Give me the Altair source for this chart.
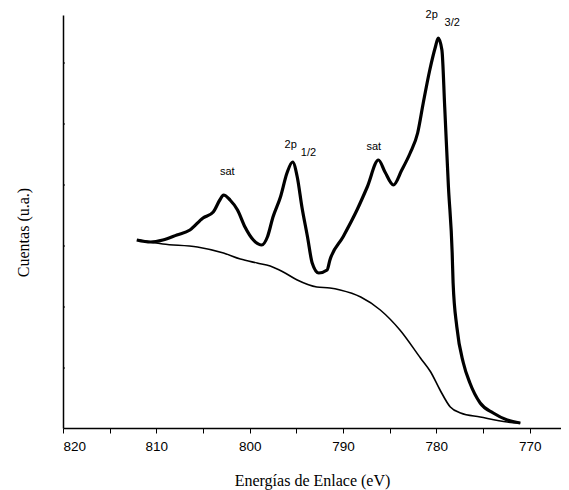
import altair as alt
import pandas as pd

# Main XPS spectrum (binding energy eV, counts a.u.)
be_spec = [812.1, 810.6, 809.3, 807.8, 806.4, 805.0, 803.9, 803.2, 802.8, 802.1,
           801.3, 800.5, 799.6, 798.7, 798.1, 797.5, 796.7, 796.0, 795.4, 794.9,
           794.4, 793.8, 793.3, 792.6, 791.7, 791.4, 790.0, 788.5, 787.4, 786.2,
           785.5, 784.6, 783.7, 782.8, 782.0, 781.4, 780.7, 780.1, 779.8, 779.4,
           779.1, 778.7, 778.3, 778.2, 777.8, 777.1, 776.4, 775.3, 773.9, 772.4, 771.0]
cts_spec = [188, 186, 188, 193, 198, 210, 216, 228, 233, 228,
            218, 201, 188, 183, 191, 211, 231, 255, 266, 251,
            221, 191, 165, 155, 158, 168, 191, 218, 241, 268,
            256, 243, 258, 275, 295, 325, 358, 381, 390, 378,
            321, 241, 175, 145, 101, 65, 45, 25, 15, 8, 5]

# Background (Shirley) curve
be_bg = [812.0, 809.3, 805.6, 802.8, 801.0, 799.2, 797.8, 796.4, 794.9, 792.8,
         791.4, 790.3, 788.1, 786.0, 783.9, 781.7, 780.6, 779.6, 778.5, 777.4,
         775.3, 772.4, 771.0]
cts_bg = [188, 184, 181, 175, 169, 165, 162, 156, 148, 141,
          140, 138, 131, 118, 98, 70, 56, 38, 21, 15,
          11, 6, 5]

# Peak annotations
ann_be = [802.4, 795.6, 793.7, 786.7, 780.5, 778.3]
ann_cts = [256, 283, 275, 281, 413, 405]
ann_text = ["sat", "2p", "1/2", "sat", "2p", "3/2"]

# Inner y ticks (no labels)
ytick_vals = [60, 121, 182, 243, 304, 365]
x_ticks = [820, 815, 810, 805, 800, 795, 790, 785, 780, 775, 770]

spec_df = pd.DataFrame({"be": be_spec, "cts": cts_spec})
bg_df = pd.DataFrame({"be": be_bg, "cts": cts_bg})
ann_df = pd.DataFrame({"be": ann_be, "cts": ann_cts, "t": ann_text})
ytk_df = pd.DataFrame({"v": ytick_vals})

x_scale = alt.Scale(domain=[766.64, 820], reverse=True, nice=False, zero=False)
y_scale = alt.Scale(domain=[0, 413], nice=False, zero=True)

x_axis = alt.Axis(
    title="Energías de Enlace (eV)", values=x_ticks,
    labelExpr="datum.value % 10 == 0 ? datum.label : ''",
    grid=False, tickSize=5, tickColor="black", tickWidth=1,
    domainColor="black", domainWidth=1.5,
    labelFont="Liberation Sans", labelFontSize=13.5, labelColor="black",
    labelPadding=6,
    titleFont="Liberation Serif", titleFontSize=16, titleFontWeight="normal",
    titleColor="black", titleBaseline="alphabetic", titleY=57,
)
y_axis = alt.Axis(
    title="Cuentas (u.a.)", labels=False, ticks=False, grid=False,
    domainColor="black", domainWidth=1.5,
    titleFont="Liberation Serif", titleFontSize=16, titleFontWeight="normal",
    titleColor="black", titleX=-32, titleY=217, titleAngle=-90,
)

spec = alt.Chart(spec_df).mark_line(color="black", strokeWidth=3.2, interpolate="monotone",
                                    strokeJoin="round").encode(
    x=alt.X("be:Q", scale=x_scale, axis=x_axis),
    y=alt.Y("cts:Q", scale=y_scale, axis=y_axis),
    order="be:Q",
)
bg = alt.Chart(bg_df).mark_line(color="black", strokeWidth=1.6, interpolate="monotone").encode(
    x=alt.X("be:Q", scale=x_scale),
    y=alt.Y("cts:Q", scale=y_scale),
)
ann = alt.Chart(ann_df).mark_text(font="Liberation Sans", fontSize=11, color="black",
                                  align="center", baseline="middle").encode(
    x=alt.X("be:Q", scale=x_scale),
    y=alt.Y("cts:Q", scale=y_scale),
    text="t:N",
)
ytk = alt.Chart(ytk_df).mark_rule(color="black", strokeWidth=1).encode(
    y=alt.Y("v:Q", scale=y_scale),
    x=alt.value(0), x2=alt.value(2),
)

chart = alt.layer(spec, bg, ann, ytk).properties(
    width=498, height=413,
    autosize=alt.AutoSizeParams(type="none"),
    padding={"left": 55, "top": 7, "right": 0, "bottom": 66},
    background="white",
).configure_view(stroke=None)

chart.save("out.html", embed_options={"renderer": "svg", "actions": False})
